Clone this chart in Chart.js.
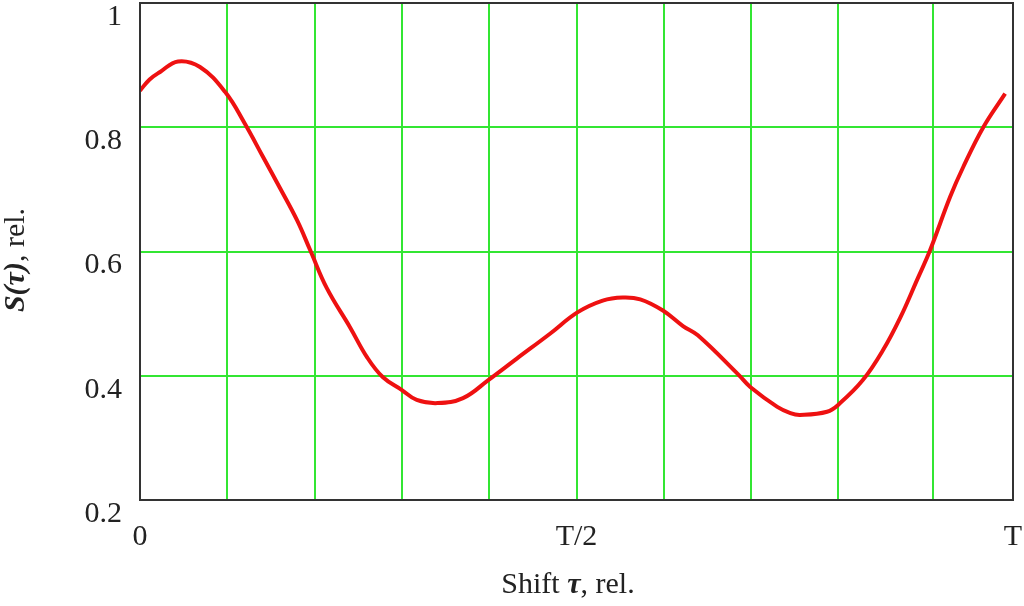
<!DOCTYPE html>
<html>
<head>
<meta charset="utf-8">
<script src="https://cdn.jsdelivr.net/npm/chart.js@4"></script>
<style>
  html, body { margin: 0; padding: 0; background: #fff; }
  #wrap { width: 1024px; height: 606px; }
</style>
</head>
<body>
<div id="wrap"><canvas id="chart" width="1024" height="606"></canvas></div>
<script>
// shift tau as a fraction of the period T
const shiftValues = [0, 0.011, 0.023, 0.0435, 0.0687, 0.0974, 0.120, 0.141, 0.160, 0.180, 0.195, 0.214,
  0.241, 0.260, 0.278, 0.300, 0.317, 0.341, 0.370, 0.399, 0.432, 0.470, 0.501, 0.530, 0.553,
  0.573, 0.599, 0.622, 0.639, 0.686, 0.699, 0.730, 0.745, 0.756, 0.787, 0.802, 0.828,
  0.851, 0.871, 0.890, 0.905, 0.928, 0.943, 0.966, 0.991];
// S(tau), relative
const signalValues = [0.859, 0.877, 0.889, 0.906, 0.897, 0.857, 0.806, 0.752, 0.703, 0.650, 0.602, 0.541,
  0.477, 0.430, 0.398, 0.377, 0.361, 0.356, 0.364, 0.393, 0.428, 0.468, 0.502, 0.521, 0.526,
  0.523, 0.505, 0.480, 0.465, 0.401, 0.382, 0.350, 0.340, 0.337, 0.342, 0.356, 0.393,
  0.441, 0.494, 0.554, 0.602, 0.688, 0.736, 0.800, 0.854];

// vertical grid lines and the labelled x ticks
const xGridValues = [0, 0.1, 0.2, 0.3, 0.4, 0.5, 0.6, 0.7, 0.8, 0.908, 1];
const xTickValues = [0, 0.5, 1];
const xTickNames = ['0', 'T/2', 'T'];
const yTickValues = [0.2, 0.4, 0.6, 0.8, 1];
const yTickNames = ['0.2', '0.4', '0.6', '0.8', '1'];

const serif = '"Liberation Serif", "DejaVu Serif", serif';
const textColor = '#222';
const gridColor = '#33e633';

const points = shiftValues.map((x, i) => ({ x: x, y: signalValues[i] }));

// draws a run of differently styled pieces, centred on (cx, cy)
function drawRich(ctx, parts, cx, cy) {
  let total = 0;
  parts.forEach(p => { ctx.font = p.font; total += ctx.measureText(p.text).width; });
  let x = cx - total / 2;
  parts.forEach(p => {
    ctx.font = p.font;
    ctx.fillText(p.text, x, cy);
    x += ctx.measureText(p.text).width;
  });
}

const framePlugin = {
  id: 'frame',
  afterDraw(chart) {
    const ctx = chart.ctx;
    const a = chart.chartArea;
    ctx.save();
    ctx.strokeStyle = '#333';
    ctx.lineWidth = 2;
    ctx.strokeRect(a.left, a.top, a.right - a.left, a.bottom - a.top);

    ctx.fillStyle = textColor;
    ctx.textBaseline = 'middle';
    ctx.textAlign = 'left';
    const normal = '30px ' + serif;
    const bi = 'italic bold 30px ' + serif;
    drawRich(ctx, [
      { text: 'Shift ', font: normal },
      { text: 'τ', font: bi },
      { text: ', rel.', font: normal }
    ], 568, 585);

    ctx.translate(16, 260);
    ctx.rotate(-Math.PI / 2);
    drawRich(ctx, [
      { text: 'S(τ)', font: bi },
      { text: ', rel.', font: normal }
    ], 0, 0);
    ctx.restore();
  }
};

new Chart(document.getElementById('chart'), {
  type: 'line',
  data: {
    datasets: [{
      data: points,
      borderColor: '#ee1111',
      borderWidth: 4,
      pointRadius: 0,
      fill: false,
      tension: 0.4
    }]
  },
  options: {
    responsive: false,
    animation: false,
    layout: { padding: { left: 0, right: 11, top: 3, bottom: 0 } },
    plugins: { legend: { display: false }, tooltip: { enabled: false } },
    scales: {
      x: {
        type: 'linear',
        min: 0,
        max: 1,
        afterBuildTicks: scale => { scale.ticks = xGridValues.map(v => ({ value: v })); },
        afterFit: scale => {
          scale.height = 106;
          scale.paddingLeft = 0;
          scale.paddingRight = 0;
        },
        grid: { color: gridColor, lineWidth: 2, drawTicks: false },
        border: { display: false },
        ticks: {
          autoSkip: false,
          maxRotation: 0,
          padding: 19,
          color: textColor,
          font: { family: serif, size: 30 },
          callback: v => {
            const i = xTickValues.indexOf(v);
            return i >= 0 ? xTickNames[i] : '';
          }
        }
      },
      y: {
        min: 0.2,
        max: 1,
        afterBuildTicks: scale => { scale.ticks = yTickValues.map(v => ({ value: v })); },
        afterFit: scale => {
          scale.width = 140;
          scale.paddingTop = 0;
          scale.paddingBottom = 0;
        },
        grid: { color: gridColor, lineWidth: 2, drawTicks: false },
        border: { display: false },
        ticks: {
          padding: 18,
          labelOffset: 14,
          color: textColor,
          font: { family: serif, size: 30 },
          callback: v => {
            const i = yTickValues.indexOf(v);
            return i >= 0 ? yTickNames[i] : '';
          }
        }
      }
    }
  },
  plugins: [framePlugin]
});
</script>
</body>
</html>
